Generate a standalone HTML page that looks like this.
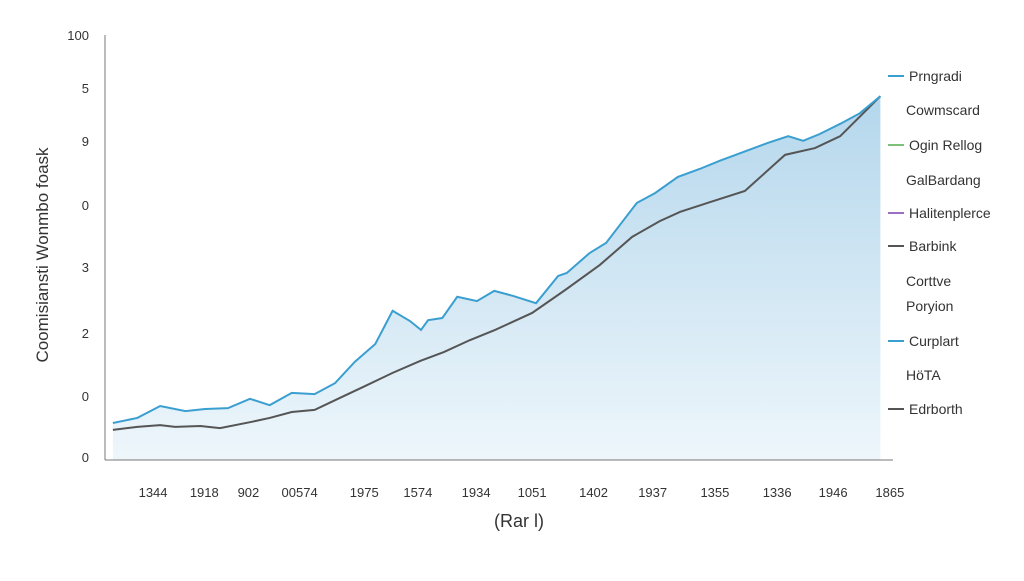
<!DOCTYPE html>
<html><head><meta charset="utf-8"><style>
body{margin:0;background:#fff;font-family:"Liberation Sans",sans-serif}
svg text{font-family:"Liberation Sans",sans-serif;fill:#333}
</style></head><body>
<svg width="1024" height="576" viewBox="0 0 1024 576">
<defs><linearGradient id="g" x1="0" y1="0" x2="0" y2="1"><stop offset="0" stop-color="#b4d7ec"/><stop offset="1" stop-color="#eef6fb"/></linearGradient></defs>
<g id="plot"></g>
<g id="axes"></g>
<g id="legend"></g>
</svg>
<script>
const xTickLabels=["1344","1918","902","00574","1975","1574","1934","1051","1402","1937","1355","1336","1946","1865"];
const xTickPos=[6.1,12.6,18.2,24.7,32.9,39.7,47.1,54.2,62.0,69.5,77.4,85.3,92.4,99.6];
const yTickLabels=["100","5","9","0","3","2","0","0"];
const yTickVals=[100,87.5,75.1,60,45.4,29.9,15.1,0.7];
const blueX=[1.0,4.1,7.0,10.2,12.7,15.6,18.4,20.9,23.7,26.6,29.2,31.7,34.3,36.5,38.7,40.1,41.0,42.8,44.7,47.2,49.4,51.8,54.7,57.5,58.6,61.5,63.6,66.0,67.5,69.8,72.7,75.5,78.0,80.6,84.1,86.7,88.6,90.7,93.3,95.8,98.4];
const blueY=[8.7,9.9,12.7,11.5,12.0,12.2,14.4,12.9,15.8,15.5,18.1,23.1,27.3,35.1,32.7,30.6,32.9,33.4,38.4,37.4,39.8,38.6,36.9,43.3,44.0,48.7,51.1,56.9,60.5,62.8,66.6,68.5,70.4,72.2,74.6,76.2,75.1,76.7,79.1,81.6,85.6];
const grayX=[1.0,4.1,7.0,8.9,12.1,14.6,18.4,20.9,23.7,26.6,29.8,33.0,36.5,40.0,43.0,46.3,49.5,54.2,58.4,62.8,66.9,70.4,73.0,76.8,81.2,86.3,90.1,93.3,98.4];
const grayY=[7.1,7.8,8.2,7.8,8.0,7.5,8.9,9.9,11.3,11.8,14.6,17.4,20.5,23.3,25.4,28.2,30.6,34.6,40.0,45.9,52.5,56.2,58.4,60.7,63.3,71.8,73.4,76.2,85.6];
const legendLabels=["Prngradi","Cowmscard","Ogin Rellog","GalBardang","Halitenplerce","Barbink","Corttve","Poryion","Curplart","HöTA","Edrborth"];
const legendColors=["#3a9fd0",null,"#7cc07a",null,"#9b6fc0","#555",null,null,"#3a9fd0",null,"#555"];
const legendYs=[76,110,145,180,213,246,281,306,341,375,409];
const NS="http://www.w3.org/2000/svg";
const X0=105,X1=893,Y0=460,Y1=35;
const sx=v=>X0+(X1-X0)*v/100, sy=v=>Y0-(Y0-Y1)*v/100;
function mk(t,a,p){const e=document.createElementNS(NS,t);for(const k in a)e.setAttribute(k,a[k]);p.appendChild(e);return e;}
const plot=document.getElementById('plot'),axes=document.getElementById('axes'),leg=document.getElementById('legend');
let bp=blueX.map((x,i)=>sx(x)+','+sy(blueY[i])).join(' ');
const area=mk('polygon',{points:sx(blueX[0])+','+Y0+' '+bp+' '+sx(blueX[blueX.length-1])+','+Y0,fill:'url(#g)'},plot);


const gl=mk('polyline',{points:grayX.map((x,i)=>sx(x)+','+sy(grayY[i])).join(' '),fill:'none',stroke:'#555','stroke-width':2},plot);


const bl=mk('polyline',{points:bp,fill:'none',stroke:'#3a9fd0','stroke-width':2},plot);


const ya=mk('line',{x1:X0,y1:Y1,x2:X0,y2:Y0,stroke:'#777'},axes);


const xa=mk('line',{x1:X0,y1:Y0,x2:X1,y2:Y0,stroke:'#777'},axes);


yTickLabels.forEach((l,i)=>{const t=mk('text',{x:89,y:sy(yTickVals[i])+5,'text-anchor':'end','font-size':13},axes);t.textContent=l;

});
xTickLabels.forEach((l,i)=>{const t=mk('text',{x:sx(xTickPos[i]),y:497,'text-anchor':'middle','font-size':13},axes);t.textContent=l;

});
const xt=mk('text',{x:519,y:527,'text-anchor':'middle','font-size':18},axes);xt.textContent='(Rar l)';


const yt=mk('text',{x:48,y:255,'text-anchor':'middle','font-size':17,transform:'rotate(-90 48 255)'},axes);yt.textContent='Coomisiansti Wonmbo foask';


legendLabels.forEach((l,i)=>{const y=legendYs[i];
if(legendColors[i]){const m=mk('line',{x1:888,y1:y,x2:904,y2:y,stroke:legendColors[i],'stroke-width':2},leg);

}
const t=mk('text',{x:legendColors[i]?909:906,y:y+5,'font-size':14,fill:'#444'},leg);t.textContent=l;

});
</script>
</body></html>
